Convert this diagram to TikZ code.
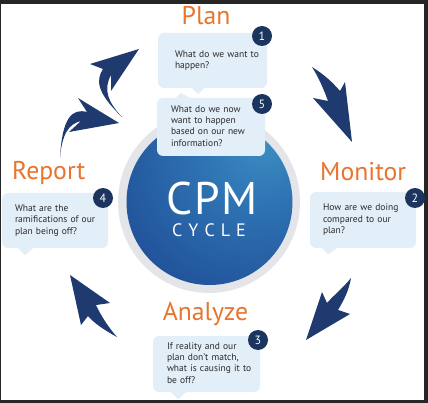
\documentclass[tikz,border=0pt]{standalone}
\usepackage{fontspec}
\setmainfont{PT Sans}
\definecolor{cpmorange}{HTML}{E8742D}
\definecolor{cpmnavy}{HTML}{1F3A6E}
\definecolor{numnavy}{HTML}{1C355E}
\definecolor{bubblefill}{HTML}{E2EEF8}
\definecolor{ringgray}{HTML}{E3E5E8}
\definecolor{textgray}{HTML}{2A2A2A}
\definecolor{framegray}{HTML}{262626}
\pgfdeclareradialshading{cpmglow}{\pgfpoint{18bp}{20bp}}{rgb(0bp)=(0.24,0.56,0.77); rgb(18bp)=(0.18,0.45,0.70); rgb(42bp)=(0.13,0.32,0.60); rgb(65bp)=(0.11,0.25,0.50); rgb(100bp)=(0.10,0.22,0.46)}
\newcommand{\qlines}[1]{\begin{tabular}{@{}l@{}}#1\end{tabular}}

\begin{document}
\begin{tikzpicture}[x=1pt, y=-1pt]
 \tikzstyle{bubble}=[rectangle, rounded corners=6pt, fill=bubblefill, text=textgray, align=left, inner ysep=0pt, font=\fontsize{9.5}{11.4}\selectfont]
 \tikzstyle{qnum}=[circle, fill=numnavy, text=white, inner sep=0pt, minimum size=20pt, font=\fontsize{12}{12}\selectfont]
 \tikzstyle{stage}=[text=cpmorange, inner sep=0pt, font=\fontsize{25.7}{26}\selectfont]
 \tikzstyle{navyarrow}=[fill=cpmnavy]
 %
 \useasboundingbox (0,0) rectangle (428,403);
 \fill[framegray] (0,0) rectangle (428,403);
 \fill[white] (1,4) rectangle (424,400);
 %
 \node[circle, fill=ringgray, minimum size=182pt, inner sep=0pt] (ring) at (209,202) {};
 \node[circle, shading=cpmglow, shade, minimum size=166pt, inner sep=0pt] (cpm) at (209.5,202) {};
 \node[text=white, inner sep=0pt, anchor=base, text depth=0pt, font=\fontsize{45.7}{46}\selectfont] (cpmtxt) at (212,215) {C\kern1.5pt P\kern1.5pt M};
 \node[text=white, inner sep=0pt, anchor=base, text height=13pt, font=\fontsize{18}{18}\selectfont] (cycle) at (209,237) {C\kern6pt Y\kern6pt C\kern6pt L\kern6pt E};
 %
 % arrows round the cycle
 \fill[navyarrow] (312,67) .. controls (325,75) and (333,83) .. (340,91) -- (345,82) -- (352,142) -- (313,98) -- (328,101) .. controls (324,90) and (319,78) .. (312,67) -- cycle;
 \fill[navyarrow] (351,278) .. controls (343,288) and (333,296) .. (327,303) -- (322,292) -- (306,340) -- (350,314) -- (338,310) .. controls (344,300) and (349,290) .. (351,278) -- cycle;
 \fill[navyarrow] (70,275) -- (110,303) -- (96,305) .. controls (102,318) and (110,329) .. (117,337) .. controls (104,330) and (94,323) .. (88,316) -- (81,325) -- cycle;
 \fill[navyarrow] (119,123) -- (78,98) -- (87,112) .. controls (72,108) and (62,118) .. (60,158) .. controls (62,135) and (68,124) .. (81,121) -- (69,132) -- cycle;
 \fill[navyarrow] (139,49) -- (90,64) -- (103,69) .. controls (96,80) and (96,92) .. (122,117) .. controls (108,102) and (103,90) .. (111,75) -- (111,91) -- cycle;
 %
 % question bubbles
 \node[bubble, inner xsep=17pt, text width=75pt, minimum height=55pt] (q1) at (212.5,60.5) {\qlines{What do we want to\\happen?}};
 \node[bubble, inner xsep=14pt, text width=80pt, minimum height=58pt] (q5) at (211,127) {\qlines{What do we now\\want to happen\\based on our new\\information?}};
 \node[bubble, inner xsep=13pt, text width=80pt, minimum height=55pt] (q4) at (55,220.5) {\qlines{What are the\\ramifications of our\\plan being off?}};
 \node[bubble, inner xsep=13pt, text width=80pt, minimum height=56pt] (q2) at (363,220) {\qlines{How are we doing\\compared to our\\plan?}};
 \node[bubble, inner xsep=14pt, text width=79pt, minimum height=56pt] (q3) at (206.5,364) {\qlines{If reality and our\\plan don’t match,\\what is causing it to\\be off?}};
 %
 \fill[bubblefill] ([xshift=-20.5pt]q1.south) -- ([xshift=-14.5pt,yshift=-6pt]q1.south) -- ([xshift=-8.5pt]q1.south) -- cycle;
 \fill[bubblefill] ([xshift=-35pt]q5.north) -- ([xshift=-30pt,yshift=5pt]q5.north) -- ([xshift=-22pt]q5.north) -- cycle;
 \fill[bubblefill] ([xshift=-37pt]q4.south) -- ([xshift=-30pt,yshift=-7pt]q4.south) -- ([xshift=-22pt]q4.south) -- cycle;
 \fill[bubblefill] ([xshift=-41pt]q2.south) -- ([xshift=-35pt,yshift=-6pt]q2.south) -- ([xshift=-26pt]q2.south) -- cycle;
 \fill[bubblefill] ([xshift=-35.5pt]q3.south) -- ([xshift=-28.5pt,yshift=-7pt]q3.south) -- ([xshift=-20.5pt]q3.south) -- cycle;
 %
 \node[qnum] (n1) at (262,36) {1};
 \node[qnum] (n2) at (415,198) {2};
 \node[qnum] (n3) at (258,340) {3};
 \node[qnum] (n4) at (103,198) {4};
 \node[qnum] (n5) at (262,104) {5};
 %
 \node[stage, anchor=base] (plan) at (206,25) {Plan};
 \node[stage, anchor=base west] (monitor) at (320,181) {Monitor};
 \node[stage, anchor=base] (analyze) at (205.5,320) {Analyze};
 \node[stage, anchor=base west] (report) at (12,180) {Report};
\end{tikzpicture}
\end{document}
